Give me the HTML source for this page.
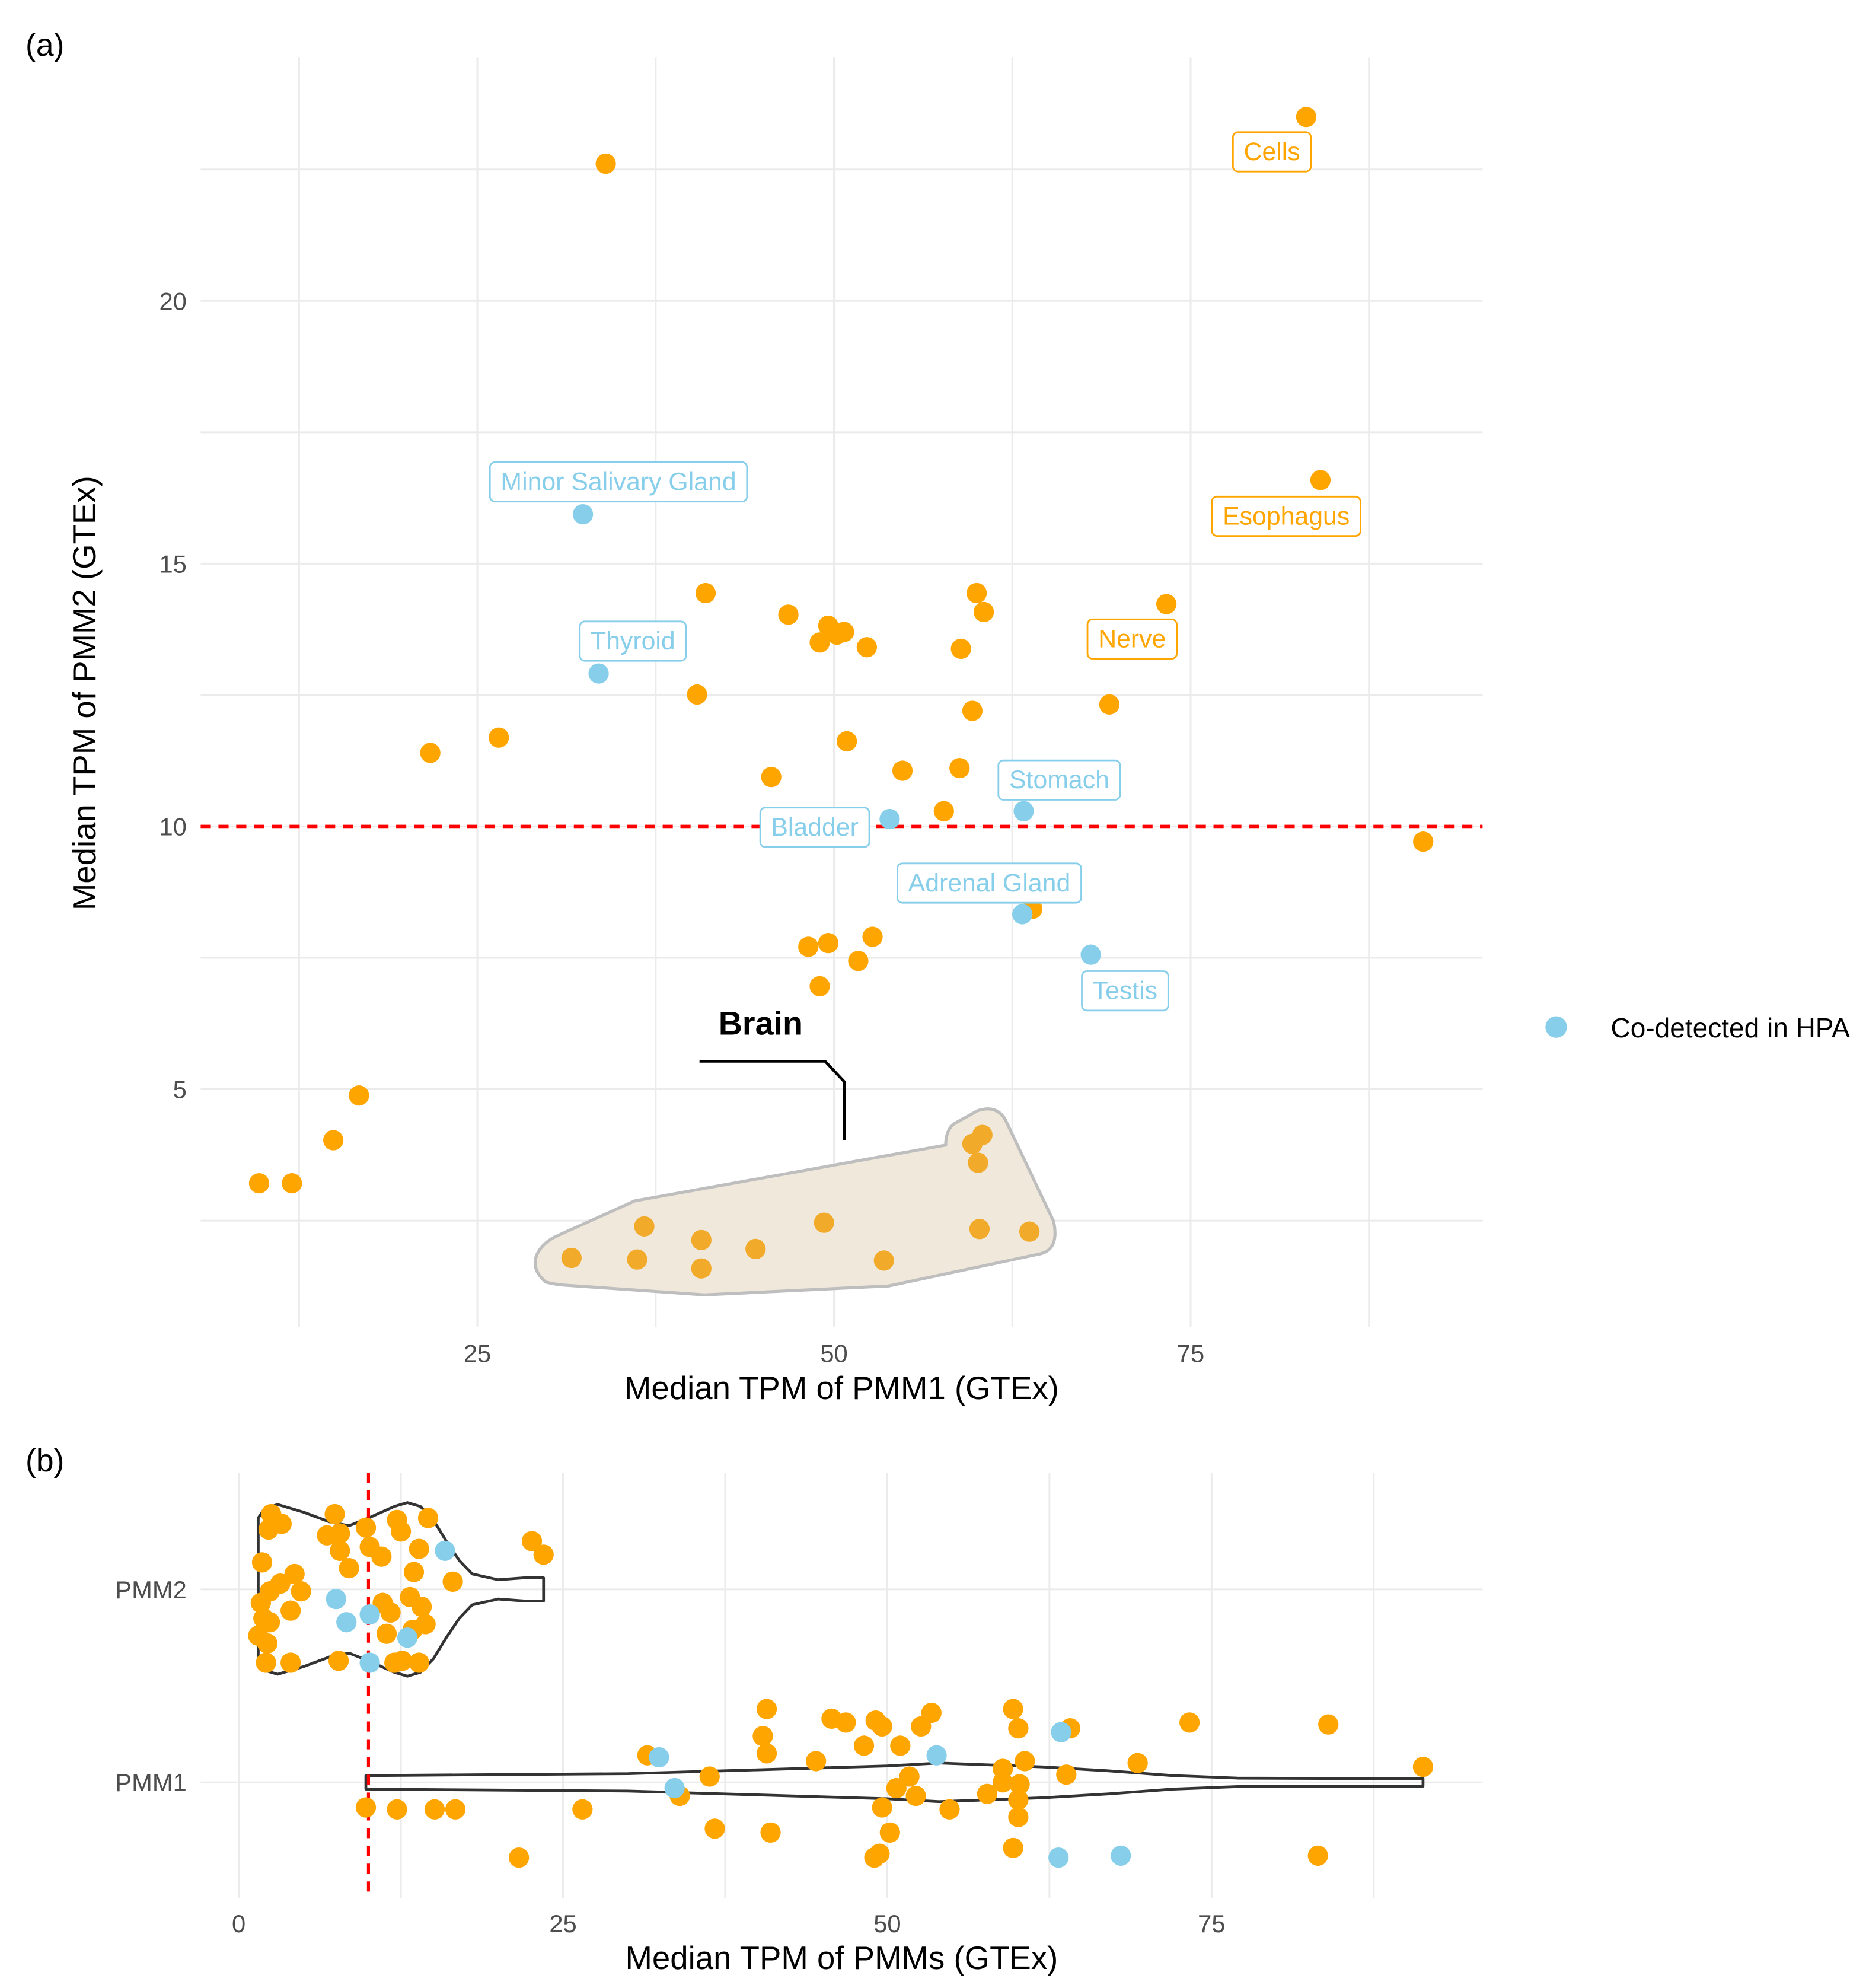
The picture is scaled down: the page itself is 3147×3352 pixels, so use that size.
<!DOCTYPE html>
<html><head><meta charset="utf-8"><style>
html,body{margin:0;padding:0;background:#fff;}
svg{display:block;font-family:"Liberation Sans",sans-serif;}
</style></head><body>
<svg id="chart" xmlns="http://www.w3.org/2000/svg" width="3147" height="3352" viewBox="0 0 1470 1566">
<g id="gA"></g>
<g id="gB"></g>
</svg>
<script>
// ---------- Panel (a) data ----------
const aOrangeX=[83.1,34.0,84.1,41.0,60.0,46.8,49.6,50.2,50.7,49.0,52.3,60.5,58.9,73.3,40.4,69.3,59.7,26.5,21.7,50.9,45.6,54.8,58.8,57.7,91.3,63.9,52.7,48.2,49.6,51.7,49.0,16.7,14.9,9.7,12.0];
const aOrangeY=[23.50,22.61,16.59,14.44,14.44,14.03,13.82,13.65,13.70,13.50,13.41,14.08,13.38,14.23,12.51,12.32,12.20,11.69,11.40,11.62,10.94,11.06,11.11,10.29,9.71,8.43,7.90,7.71,7.78,7.44,6.96,4.88,4.03,3.21,3.21];
const aBrainX=[60.4,59.7,60.1,31.6,36.2,36.7,40.7,40.7,44.5,49.3,53.5,60.2,63.7];
const aBrainY=[4.13,3.96,3.60,1.79,1.76,2.39,2.13,1.59,1.96,2.46,1.74,2.34,2.29];
const aBlueX=[32.4,33.5,53.9,63.3,63.2,68.0];
const aBlueY=[15.94,12.91,10.14,10.29,8.33,7.56];
const aXTicks=[25,50,75];
const aYTicks=[5,10,15,20];
const aLabels=[
 {t:"Cells",x:83.1,y:23.5,dx:-27,dy:27,c:"#FFA500"},
 {t:"Minor Salivary Gland",x:32.4,y:15.94,dx:28,dy:-26,c:"#87CEEB"},
 {t:"Esophagus",x:84.1,y:16.59,dx:-27,dy:28,c:"#FFA500"},
 {t:"Thyroid",x:33.5,y:12.91,dx:27,dy:-26,c:"#87CEEB"},
 {t:"Nerve",x:73.3,y:14.23,dx:-27,dy:27,c:"#FFA500"},
 {t:"Stomach",x:63.3,y:10.29,dx:28,dy:-25,c:"#87CEEB"},
 {t:"Bladder",x:53.9,y:10.14,dx:-59,dy:6,c:"#87CEEB"},
 {t:"Adrenal Gland",x:63.2,y:8.33,dx:-26,dy:-25,c:"#87CEEB"},
 {t:"Testis",x:68.0,y:7.56,dx:27,dy:28,c:"#87CEEB"}
];
// ---------- Panel (b) data ----------
const bP2OrangeX=[2.5,3.3,2.3,7.4,6.8,7.8,9.8,12.2,12.5,14.6,1.8,4.3,7.8,8.5,10.1,11.0,13.9,13.5,22.6,23.5,16.5,1.7,2.4,3.2,4.8,4.0,1.9,2.4,11.1,11.7,13.2,14.1,14.4,2.2,1.5,11.4,2.1,4.0,7.7,12.0,12.6,13.9,13.4];
const bP2OrangeJ=[0.39,0.34,0.31,0.39,0.28,0.29,0.32,0.36,0.30,0.37,0.14,0.08,0.20,0.11,0.22,0.17,0.21,0.09,0.25,0.18,0.04,-0.07,-0.01,0.03,-0.01,-0.11,-0.15,-0.17,-0.07,-0.12,-0.04,-0.09,-0.18,-0.28,-0.24,-0.23,-0.38,-0.38,-0.37,-0.38,-0.37,-0.38,-0.21];
const bP2BlueX=[7.5,8.3,10.1,13.0,10.1,15.9];
const bP2BlueJ=[-0.05,-0.17,-0.13,-0.25,-0.38,0.20];
const bP1OrangeX=[40.7,59.7,45.7,46.8,49.1,49.6,53.4,52.6,60.1,64.1,73.3,84.0,40.4,40.7,31.5,44.5,48.2,51.0,60.6,58.9,69.3,91.3,36.3,51.7,50.7,52.2,60.2,63.8,58.9,57.7,60.1,34.0,9.8,12.2,15.1,16.7,26.5,49.6,54.8,60.1,36.7,41.0,50.2,59.7,49.4,49.0,21.6,83.2];
const bP1OrangeJ=[0.38,0.38,0.33,0.31,0.32,0.29,0.36,0.29,0.28,0.28,0.31,0.30,0.24,0.15,0.14,0.11,0.19,0.19,0.11,0.07,0.10,0.08,0.03,0.03,-0.03,-0.07,-0.01,0.04,0,-0.06,-0.09,-0.07,-0.13,-0.14,-0.14,-0.14,-0.14,-0.13,-0.14,-0.18,-0.24,-0.26,-0.26,-0.34,-0.37,-0.39,-0.39,-0.38];
const bP1BlueX=[32.4,53.8,63.4,33.6,63.2,68.0];
const bP1BlueJ=[0.13,0.14,0.26,-0.03,-0.39,-0.38];
const vP2X=[1.5,2,3,5,7,8.5,10,12,13,14,15,16,17,18,20,22,23.5];
const vP2W=[0.37,0.42,0.44,0.40,0.35,0.33,0.37,0.43,0.45,0.43,0.36,0.25,0.15,0.08,0.05,0.06,0.06];
const vP1X=[9.8,20,30,40,50,54,58,62,67,72,77,85,91.3];
const vP1W=[0.035,0.04,0.045,0.065,0.085,0.1,0.09,0.08,0.06,0.035,0.022,0.02,0.02];
const bXTicks=[0,25,50,75];
const bCats=["PMM1","PMM2"];

const NS="http://www.w3.org/2000/svg";
function mk(p,tag,at,txt){const e=document.createElementNS(NS,tag);for(const k in at)e.setAttribute(k,at[k]);if(txt!=null)e.textContent=txt;p.appendChild(e);return e;}
const gA=document.getElementById('gA'),gB=document.getElementById('gB');
const GRID="#ebebeb",TICK="#4d4d4d";

const axL=158,axR=1168,ayT=45,ayB=1045;
const ax=v=>95+v*11.24, ay=v=>651-(v-10)*41.4;
let t=mk(gA,'text',{x:20,y:44,'font-size':25,fill:'#000'},'(a)');

for(let v=12.5;v<=87.5;v+=12.5){const l=mk(gA,'line',{x1:ax(v),x2:ax(v),y1:ayT,y2:ayB,stroke:GRID,'stroke-width':1.4});}
for(let v=2.5;v<=22.5;v+=2.5){const l=mk(gA,'line',{x1:axL,x2:axR,y1:ay(v),y2:ay(v),stroke:GRID,'stroke-width':1.4});}
aXTicks.forEach(v=>{const e=mk(gA,'text',{x:ax(v),y:1073,'font-size':19.5,fill:TICK,'text-anchor':'middle'},v);});
aYTicks.forEach(v=>{const e=mk(gA,'text',{x:147,y:ay(v)+7,'font-size':19.5,fill:TICK,'text-anchor':'end'},v);});
t=mk(gA,'text',{x:663,y:1102,'font-size':25.5,fill:'#000','text-anchor':'middle'},'Median TPM of PMM1 (GTEx)');

t=mk(gA,'text',{x:0,y:0,'font-size':25.5,fill:'#000','text-anchor':'middle',transform:'translate(75,546) rotate(-90)'},'Median TPM of PMM2 (GTEx)');

t=mk(gA,'line',{x1:axL,x2:axR,y1:ay(10),y2:ay(10),stroke:'#ff0000','stroke-width':2.6,'stroke-dasharray':'8,6'});

const hull="M430,1010 Q418,1000 423,988 Q428,978 440,973 L500,946 L745,902 Q745,890 752,885 L770,875 Q785,870 792,882 L830,962 Q835,985 818,988 L700,1013 L555,1020 L440,1012 Z";
t=mk(gA,'path',{d:hull,fill:'#f0e8da',stroke:'none'});

aBrainX.forEach((v,i)=>{const c=mk(gA,'circle',{cx:ax(v),cy:ay(aBrainY[i]),r:8,fill:'#f2aa2a'});});
t=mk(gA,'path',{d:hull,fill:'none',stroke:'#bebebe','stroke-width':2.4});

t=mk(gA,'polyline',{points:'551,836 650,836 665,852 665,898',fill:'none',stroke:'#000','stroke-width':2.2});

t=mk(gA,'text',{x:566,y:815,'font-size':26,'font-weight':'bold',fill:'#000'},'Brain');

aOrangeX.forEach((v,i)=>{const c=mk(gA,'circle',{cx:ax(v),cy:ay(aOrangeY[i]),r:8,fill:'#FFA500'});});
aBlueX.forEach((v,i)=>{const c=mk(gA,'circle',{cx:ax(v),cy:ay(aBlueY[i]),r:8,fill:'#87CEEB'});});
aLabels.forEach(L=>{
  const cx=ax(L.x)+L.dx, cy=ay(L.y)+L.dy;
  const g=mk(gA,'g',{});
  
  const tx=mk(g,'text',{x:cx,y:cy+7,'font-size':20,fill:L.c,'text-anchor':'middle'},L.t);
  let tw=L.t.length*10;
  try{tw=tx.getComputedTextLength();}catch(e){}
  const w=tw+17;
  const r=mk(g,'rect',{x:cx-w/2,y:cy-15,width:w,height:31,rx:4,fill:'#fff',stroke:L.c,'stroke-width':1.3});
  g.insertBefore(r,tx);
});
t=mk(gA,'circle',{cx:1226,cy:809,r:8.5,fill:'#87CEEB'});

t=mk(gA,'text',{x:1269,y:817,'font-size':21.5,fill:'#000'},'Co-detected in HPA');


const bL=158,bR=1168,bT=1160,bB=1495;
const bx=v=>188+v*10.22, by=(cat,j)=>(cat===1?1252:1404)-j*152;
t=mk(gB,'text',{x:20,y:1159,'font-size':25,fill:'#000'},'(b)');

for(let v=0;v<=87.5;v+=12.5){const l=mk(gB,'line',{x1:bx(v),x2:bx(v),y1:bT,y2:bB,stroke:GRID,'stroke-width':1.4});}
bCats.forEach((c,i)=>{const l=mk(gB,'line',{x1:bL,x2:bR,y1:by(i,0),y2:by(i,0),stroke:GRID,'stroke-width':1.4});
 const e=mk(gB,'text',{x:147,y:by(i,0)+7,'font-size':19.5,fill:TICK,'text-anchor':'end'},c);});
bXTicks.forEach(v=>{const e=mk(gB,'text',{x:bx(v),y:1522,'font-size':19.5,fill:TICK,'text-anchor':'middle'},v);});
t=mk(gB,'text',{x:663,y:1551,'font-size':25.5,fill:'#000','text-anchor':'middle'},'Median TPM of PMMs (GTEx)');

function violin(xs,ws,cat,name){
  let d='M'+bx(xs[0])+','+by(cat,ws[0]);
  for(let i=1;i<xs.length;i++)d+=' L'+bx(xs[i])+','+by(cat,ws[i]);
  for(let i=xs.length-1;i>=0;i--)d+=' L'+bx(xs[i])+','+by(cat,-ws[i]);
  d+='Z';
  const p=mk(gB,'path',{d:d,fill:'none',stroke:'#333','stroke-width':2.2,'stroke-linejoin':'round'});
  
}
violin(vP2X,vP2W,1,'violin-pmm2');
violin(vP1X,vP1W,0,'violin-pmm1');
t=mk(gB,'line',{x1:bx(10),x2:bx(10),y1:bT,y2:bB,stroke:'#ff0000','stroke-width':2.4,'stroke-dasharray':'8,6'});

function pts(xs,js,cat,col,name){xs.forEach((v,i)=>{const c=mk(gB,'circle',{cx:bx(v),cy:by(cat,js[i]),r:8,fill:col});});}
pts(bP2OrangeX,bP2OrangeJ,1,'#FFA500','pmm2-point');
pts(bP2BlueX,bP2BlueJ,1,'#87CEEB','pmm2-hpa-point');
pts(bP1OrangeX,bP1OrangeJ,0,'#FFA500','pmm1-point');
pts(bP1BlueX,bP1BlueJ,0,'#87CEEB','pmm1-hpa-point');
</script>
</body></html>
